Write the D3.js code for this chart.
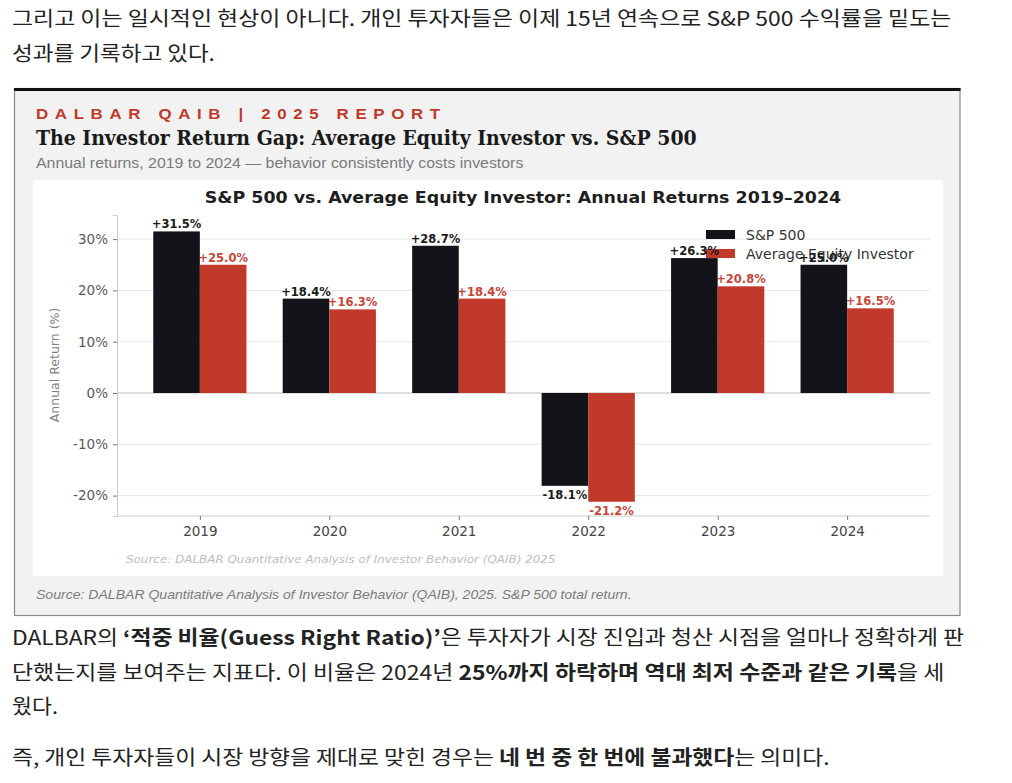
<!DOCTYPE html>
<html><head><meta charset="utf-8">
<script src="https://cdn.jsdelivr.net/npm/d3@7/dist/d3.min.js"></script>
<style>body{margin:0;background:#fff;}svg{display:block;}</style>
</head><body>
<svg id="c" width="1012" height="783"></svg>
<script>
const years = ["2019","2020","2021","2022","2023","2024"];
const sp500 = [31.5,18.4,28.7,-18.1,26.3,25.0];
const investor = [25.0,16.3,18.4,-21.2,20.8,16.5];
const yTicks = [-20,-10,0,10,20,30];
const seriesNames = ["S&P 500","Average Equity Investor"];
const seriesColors = ["#121419","#c0392b"];
const labelColors = ["#1a1a1a","#c8453a"];

const svg = d3.select("#c");
const KR = "'Noto Sans CJK KR','Noto Sans',sans-serif";
const DJ = "'DejaVu Sans',sans-serif";
const LS = "'Liberation Sans',Arial,sans-serif";

function fitLeft(sel, x, w){
  const len = sel.node().getComputedTextLength();
  const s = w/len;
  sel.attr("transform", `translate(${x},0) scale(${s},1) translate(${-x},0)`);
}
function fitMid(sel, cx, w){
  const len = sel.node().getComputedTextLength();
  const s = w/len;
  sel.attr("transform", `translate(${cx},0) scale(${s},1) translate(${-cx},0)`);
}
function para(y, parts, x, w){
  const t = svg.append("text").attr("x", x).attr("y", y)
    .style("font-family", KR).style("font-size","20px").attr("fill","#222");
  parts.forEach(p => t.append("tspan").text(p[0]).attr("font-weight", p[1] ? 700 : 400));
  if (w) fitLeft(t, x, w);
  return t;
}

// Top article text
para(26, [["그리고 이는 일시적인 현상이 아니다. 개인 투자자들은 이제 15년 연속으로 S&P 500 수익률을 밑도는", false]], 12, 940);
para(61, [["성과를 기록하고 있다.", false]], 12, 203);

// Frame
svg.append("rect").attr("x",14.5).attr("y",88.5).attr("width",945.5).attr("height",527)
  .attr("fill","#f2f2f2").attr("stroke","#8a8a8a").attr("stroke-width",1.2);
svg.append("line").attr("x1",14).attr("x2",960.5).attr("y1",89.5).attr("y2",89.5)
  .attr("stroke","#111").attr("stroke-width",3);

// Header texts
const hdr = svg.append("text").attr("x",36).attr("y",119).text("DALBAR QAIB   |   2025 REPORT")
  .style("font-family",LS).style("font-weight",700).style("font-size","14px")
  .style("letter-spacing","5.5px").attr("fill","#c0392b");
fitLeft(hdr, 36, 411);
const ttl = svg.append("text").attr("x",36).attr("y",145).text("The Investor Return Gap: Average Equity Investor vs. S&P 500")
  .style("font-family","'DejaVu Serif','Liberation Serif',serif").style("font-weight",700).style("font-size","20px").attr("fill","#1a1a1a");
fitLeft(ttl, 36, 661);
const sub = svg.append("text").attr("x",36).attr("y",168).text("Annual returns, 2019 to 2024 — behavior consistently costs investors")
  .style("font-family",LS).style("font-size","15px").attr("fill","#7a7a7a");
fitLeft(sub, 36, 488);

// Inner white panel
svg.append("rect").attr("x",33).attr("y",180).attr("width",910).attr("height",396).attr("fill","#fff");

const it = svg.append("text").attr("x",523).attr("y",203).attr("text-anchor","middle")
  .text("S&P 500 vs. Average Equity Investor: Annual Returns 2019–2024")
  .style("font-family",DJ).style("font-weight",700).style("font-size","16px").attr("fill","#1e1e1e");
fitMid(it, 523, 637);

// Scales
const x = d3.scaleLinear().domain([-0.64, years.length - 1 + 0.64]).range([117, 930]);
const y = d3.scaleLinear().domain([-23.98, 34.7]).range([516, 215]);
const bw = 0.36;
const pxW = x(bw) - x(0);

// Grid
svg.append("g").selectAll("line").data(yTicks).join("line")
  .attr("x1", x.range()[0]).attr("x2", x.range()[1])
  .attr("y1", d => y(d)).attr("y2", d => y(d))
  .attr("stroke", d => d === 0 ? "#bdbdbd" : "#e6e6e6").attr("stroke-width", d => d === 0 ? 1.2 : 1);

// Axes
const yAxis = d3.axisLeft(y).tickValues(yTicks).tickFormat(d => d + "%").tickSize(4).tickPadding(5);
const gy = svg.append("g").attr("transform",`translate(${x.range()[0]},0)`).call(yAxis);
gy.select(".domain").attr("stroke","#cccccc");
gy.selectAll(".tick line").attr("stroke","#777");
gy.selectAll(".tick text").style("font-family",DJ).style("font-size","13.5px").attr("fill","#5a5a5a");

const xAxis = d3.axisBottom(x).tickValues(d3.range(years.length)).tickFormat(i => years[i]).tickSize(4).tickPadding(6);
const gx = svg.append("g").attr("transform",`translate(0,${y.range()[0]})`).call(xAxis);
gx.select(".domain").attr("stroke","#cccccc").attr("d", `M${x.range()[0]},0H${x.range()[1]}`);
gx.selectAll(".tick line").attr("stroke","#777");
gx.selectAll(".tick text").style("font-family",DJ).style("font-size","13.5px").attr("fill","#444");

svg.append("text").attr("transform","translate(59,365) rotate(-90)").attr("text-anchor","middle")
  .text("Annual Return (%)").style("font-family",DJ).style("font-size","12.5px").attr("fill","#808080");

// Bars
const series = [sp500, investor];
series.forEach((vals, si) => {
  const off = si === 0 ? -bw : 0;
  svg.append("g").selectAll("rect").data(vals).join("rect")
    .attr("x", (d,i) => x(i + off))
    .attr("width", pxW)
    .attr("y", d => y(Math.max(0,d)))
    .attr("height", d => Math.abs(y(d) - y(0)))
    .attr("fill", seriesColors[si]);
});

// Legend
const lg = svg.append("g");
seriesNames.forEach((n, i) => {
  lg.append("rect").attr("x",706).attr("y",230 + i*19).attr("width",29).attr("height",9).attr("fill",seriesColors[i]);
  lg.append("text").attr("x",746).attr("y",239.5 + i*19).text(n)
    .style("font-family",DJ).style("font-size","14px").attr("fill","#333");
});

// Value labels
series.forEach((vals, si) => {
  const off = si === 0 ? -bw/2 : bw/2;
  svg.append("g").selectAll("text").data(vals).join("text")
    .attr("x", (d,i) => x(i + off))
    .attr("y", d => d >= 0 ? y(d) - 3 : y(d) + 13)
    .attr("text-anchor","middle")
    .text(d => (d >= 0 ? "+" : "") + d.toFixed(1) + "%")
    .style("font-family",DJ).style("font-weight",700).style("font-size","11.5px")
    .attr("fill", labelColors[si]);
});

// Sources
const is = svg.append("text").attr("x",126).attr("y",563).text("Source: DALBAR Quantitative Analysis of Investor Behavior (QAIB) 2025")
  .style("font-family",DJ).style("font-style","italic").style("font-size","11px").attr("fill","#bdbdbd");
fitLeft(is, 126, 430);
const os = svg.append("text").attr("x",36).attr("y",599).text("Source: DALBAR Quantitative Analysis of Investor Behavior (QAIB), 2025. S&P 500 total return.")
  .style("font-family",LS).style("font-style","italic").style("font-size","13px").attr("fill","#7a7a7a");
fitLeft(os, 36, 596);

// Bottom article text
para(645, [["DALBAR의 ", false],["‘적중 비율(Guess Right Ratio)’",true],["은 투자자가 시장 진입과 청산 시점을 얼마나 정확하게 판", false]], 12, 953);
para(680, [["단했는지를 보여주는 지표다. 이 비율은 2024년 ", false],["25%까지 하락하며 역대 최저 수준과 같은 기록",true],["을 세", false]], 12, 933);
para(714, [["웠다.", false]], 12, 46);
para(765, [["즉, 개인 투자자들이 시장 방향을 제대로 맞힌 경우는 ", false],["네 번 중 한 번에 불과했다",true],["는 의미다.", false]], 12, 818);
</script>
</body></html>
